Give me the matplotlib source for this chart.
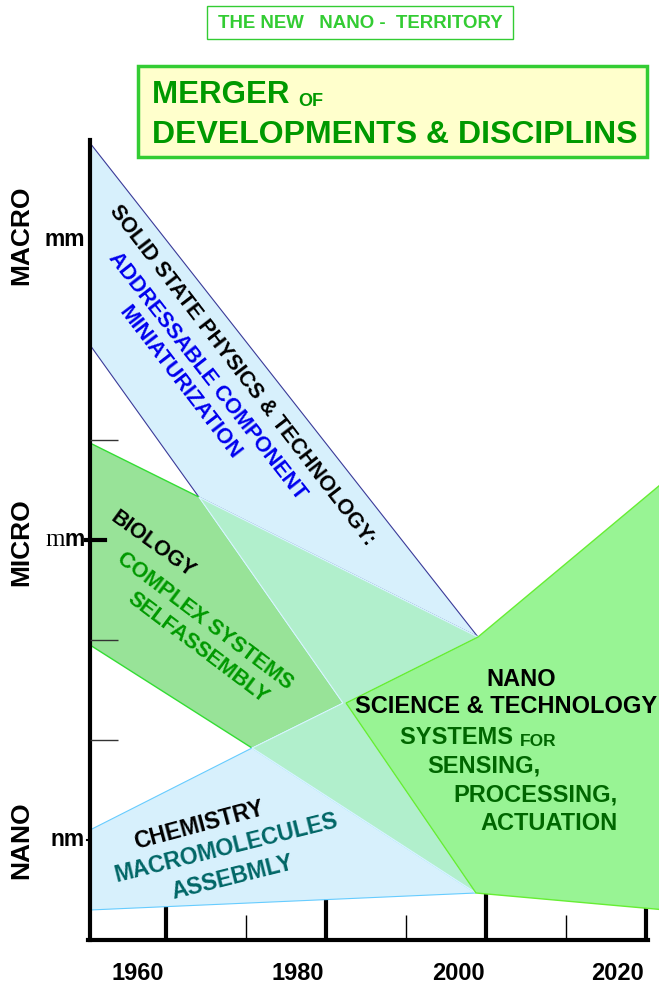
import matplotlib
matplotlib.use("Agg")
import matplotlib.pyplot as plt
from matplotlib.patches import Polygon, Rectangle
from matplotlib.text import Annotation

plt.rcParams['font.family'] = ['Liberation Sans', 'DejaVu Sans']

# x = year, y = log10(size in metres)
solid_state = [(1954, -2.03), (2002.5, -6.97), (1967.6, -5.57), (1954, -4.05)]
biology = [(1954, -5.03), (1967.6, -5.57), (1985.6, -7.63), (1974.25, -8.08), (1954, -7.05)]
chemistry = [(1954, -8.9), (1974.25, -8.08), (2002.25, -9.53), (1954, -9.7)]
overlap = [(1967.6, -5.57), (2002.5, -6.97), (1986.0, -7.63), (2002.25, -9.53),
           (1974.25, -8.08), (1985.6, -7.63)]
nano = [(1986.0, -7.63), (2002.5, -6.97), (2026, -5.4), (2026, -9.7), (2002.25, -9.53)]

year_labels = [1960, 1980, 2000, 2020]
major_ticks = [1963.5, 1983.5, 2003.5, 2023.5]
minor_ticks = [1973.5, 1993.5, 2013.5]
thin_yticks = [-5, -7, -8]
scale_names = ['MACRO', 'MICRO', 'NANO']
scale_pos = [-2.95, -6.02, -9.0]

fig = plt.figure(figsize=(6.59, 9.89), dpi=100)
ax = fig.add_axes([90 / 659, 49 / 989, 569 / 659, 800 / 989])
ax.set_xlim(1954, 2025.125)
ax.set_ylim(-10, -2)

for s in ['top', 'right']:
    ax.spines[s].set_visible(False)
ax.spines['left'].set_linewidth(3)
ax.spines['bottom'].set_linewidth(3)
ax.spines['bottom'].set_bounds(1953.8, 2023.7)
ax.set_yticks([])
ax.set_xticks(year_labels)
ax.set_xticklabels([str(y) for y in year_labels], fontsize=17, fontweight='bold')
ax.tick_params(axis='x', length=0, pad=16)

# tick marks sit under the shaded bands
ax.vlines(major_ticks, -10, -9.45, color='black', lw=3, zorder=0.5)
ax.vlines(minor_ticks, -10, -9.75, color='black', lw=1, zorder=0.5)
ax.hlines(thin_yticks, 1954, 1957.5, color='#333333', lw=1, zorder=5)
ax.plot([1953.5, 1955.9], [-6, -6], color='black', lw=3, clip_on=False, zorder=5)
ax.plot([1953.6, 1954], [-9, -9], color='black', lw=1.5, clip_on=False, zorder=5)

ax.add_patch(Polygon(solid_state, closed=True, fc='#d7f0fc', ec='#3a3a99', lw=0.8, zorder=1))
ax.add_patch(Polygon(biology, closed=True, fc='#98e398', ec='#33dd33', lw=1, zorder=1.1))
ax.add_patch(Polygon(chemistry, closed=True, fc='#d7f0fc', ec='#66ccff', lw=0.8, zorder=1.1))
ax.add_patch(Polygon(overlap, closed=True, fc='#b1efcc', ec='#d8f4ff', lw=1, zorder=1.2))
ax.add_patch(Polygon(nano, closed=True, fc='#98f494', ec='#66ee33', lw=1, zorder=1.3))

# scale labels on the left
for name, pos in zip(scale_names, scale_pos):
    ax.text(-0.12, pos, name, transform=ax.get_yaxis_transform(), rotation=90,
            ha='center', va='center', fontsize=19, fontweight='bold')
ax.text(-0.009, -3.0, 'mm', transform=ax.get_yaxis_transform(), ha='right',
        va='center', fontsize=16.5, fontweight='bold')
mu = ax.text(-0.009, -6.0, 'm', transform=ax.get_yaxis_transform(), ha='right',
             va='center', fontsize=16.5, fontweight='bold')
ax.annotate('m', xy=(0, 0), xycoords=mu, ha='right', va='bottom', fontsize=18,
            family='Liberation Serif')
ax.text(-0.009, -9.0, 'nm', transform=ax.get_yaxis_transform(), ha='right',
        va='center', fontsize=16.5, fontweight='bold')

# band labels
kw = dict(ha='center', va='center', fontweight='bold', rotation_mode='anchor', zorder=6)
ax.text(1973.0, -4.35, 'SOLID STATE PHYSICS & TECHNOLOGY:', rotation=-52.5, fontsize=15.5, **kw)
ax.text(1968.6, -4.36, 'ADDRESSABLE COMPONENT', rotation=-52, color='#0000ee', fontsize=15.5, **kw)
ax.text(1965.25, -4.43, 'MINIATURIZATION', rotation=-52.5, color='#0000ee', fontsize=15.5, **kw)
ax.text(1961.8, -6.05, 'BIOLOGY', rotation=-36, fontsize=15.5, **kw)
ax.text(1968.4, -6.81, 'COMPLEX SYSTEMS', rotation=-37, color='#009900', fontsize=15.5, **kw)
ax.text(1967.5, -7.08, 'SELFASSEMBLY', rotation=-37, color='#009900', fontsize=15.5, **kw)
ax.text(1967.6, -8.85, 'CHEMISTRY', rotation=15, fontsize=16.5, **kw)
ax.text(1971.0, -9.08, 'MACROMOLECULES', rotation=14, color='#006666', fontsize=16.5, **kw)
ax.text(1971.75, -9.38, 'ASSEBMLY', rotation=14, color='#006666', fontsize=16.5, **kw)

ax.text(2007.9, -7.4, 'NANO', ha='center', va='center', fontsize=17, fontweight='bold', zorder=6)
ax.text(2006.0, -7.67, 'SCIENCE & TECHNOLOGY', ha='center', va='center', fontsize=17,
        fontweight='bold', zorder=6)
sy = ax.text(1992.75, -7.98, 'SYSTEMS ', ha='left', va='center', fontsize=17,
             fontweight='bold', color='#006600', zorder=6)
ax.annotate('FOR', xy=(1, 0), xycoords=sy, ha='left', va='bottom', fontsize=12.5,
            fontweight='bold', color='#006600', zorder=6)
ax.text(1996.1, -8.26, 'SENSING,', ha='left', va='center', fontsize=17,
        fontweight='bold', color='#006600', zorder=6)
ax.text(1999.4, -8.55, 'PROCESSING,', ha='left', va='center', fontsize=17,
        fontweight='bold', color='#006600', zorder=6)
ax.text(2002.75, -8.84, 'ACTUATION', ha='left', va='center', fontsize=17,
        fontweight='bold', color='#006600', zorder=6)

# headline boxes
fig.patches.append(Rectangle((207 / 659, 1 - 39 / 989), 306 / 659, 33 / 989,
                             transform=fig.transFigure, fc='white', ec='#33cc33', lw=1))
fig.text(360 / 659, 1 - 23 / 989, 'THE NEW   NANO -  TERRITORY', ha='center', va='center',
         fontsize=13.4, fontweight='bold', color='#33cc33')
fig.patches.append(Rectangle((138 / 659, 1 - 157 / 989), 509 / 659, 91 / 989,
                             transform=fig.transFigure, fc='#ffffcc', ec='#33cc33', lw=2.5))
mg = fig.text(152 / 659, 1 - 103 / 989, 'MERGER ', ha='left', va='baseline',
              fontsize=22.5, fontweight='bold', color='#009900')
fig.add_artist(Annotation('OF', xy=(1, 0), xycoords=mg, ha='left', va='bottom',
                          fontsize=13, fontweight='bold', color='#009900'))
fig.text(152 / 659, 1 - 143 / 989, 'DEVELOPMENTS & DISCIPLINS', ha='left', va='baseline',
         fontsize=23, fontweight='bold', color='#009900')

fig.savefig('out.png', dpi=100)
